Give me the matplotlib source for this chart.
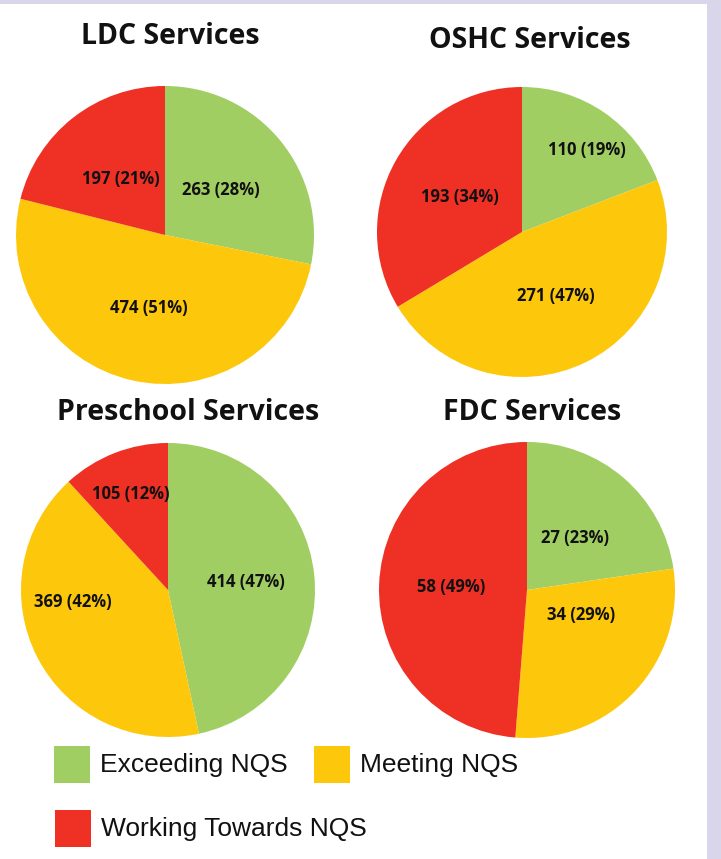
import numpy as np
import matplotlib
matplotlib.use("Agg")
import matplotlib.pyplot as plt
from matplotlib.patches import Rectangle

# ---- data ----
categories = ["Exceeding NQS", "Meeting NQS", "Working Towards NQS"]
titles = ["LDC Services", "OSHC Services", "Preschool Services", "FDC Services"]
ldc = [263, 474, 197]
oshc = [110, 271, 193]
preschool = [414, 369, 105]
fdc = [27, 34, 58]
series = [ldc, oshc, preschool, fdc]

# ---- style ----
colors = ["#A1CE63", "#FDC70C", "#EE3124"]
lavender = "#D9D5EA"
W, H = 721, 859
DPI = 100

# pie centres / radii in pixels (x from left, y from top)
centres = [(165, 235, 149), (522, 232, 145), (168, 590, 147), (527, 590, 148)]
title_pos = [(170, 36), (530, 40), (188, 412), (532, 412)]
# per-label distance (fraction of radius) and angle shift (deg)
label_dist = [[0.48, 0.5, 0.48], [0.72, 0.5, 0.49], [0.53, 0.65, 0.7], [0.48, 0.4, 0.51]]
label_shift = [[0, 0, 0], [-4, 2, 0], [0, -20, 0], [-2, 18, 0]]

fig = plt.figure(figsize=(W / DPI, H / DPI), dpi=DPI, facecolor=lavender)
bg = fig.add_axes([0, 0, 1, 1])
bg.set_xlim(0, W); bg.set_ylim(H, 0); bg.axis("off")
bg.add_patch(Rectangle((0, 4), 707, H, facecolor="white", edgecolor="none"))

for vals, (cx, cy, r), dists, shifts in zip(series, centres, label_dist, label_shift):
    ax = fig.add_axes([(cx - r) / W, 1 - (cy + r) / H, 2 * r / W, 2 * r / H])
    wedges, _ = ax.pie(vals, colors=colors, startangle=90, counterclock=False,
                       wedgeprops=dict(linewidth=0))
    ax.set_xlim(-1, 1); ax.set_ylim(-1, 1)
    ax.set_aspect("equal")
    total = sum(vals)
    for w, v, d, s in zip(wedges, vals, dists, shifts):
        ang = np.deg2rad((w.theta1 + w.theta2) / 2 + s)
        ax.text(d * np.cos(ang), d * np.sin(ang), f"{v} ({v / total * 100:.0f}%)",
                ha="center", va="center", fontsize=12, fontweight="bold",
                family="Open Sans", color="#111111")

for t, (tx, ty) in zip(titles, title_pos):
    fig.text(tx / W, 1 - ty / H, t, ha="center", va="center", fontsize=20.5,
             fontweight="bold", family="Open Sans", color="#111111")

# legend
leg_boxes = [(54, 746), (314, 746), (55, 810)]
for cat, c, (lx, ly) in zip(categories, colors, leg_boxes):
    bg.add_patch(Rectangle((lx, ly), 36, 37, facecolor=c, edgecolor="none"))
    bg.text(lx + 46, ly + 19, cat, ha="left", va="center", fontsize=19,
            family="Liberation Sans", color="#111111")

fig.savefig("out.png", dpi=DPI, facecolor=lavender)
